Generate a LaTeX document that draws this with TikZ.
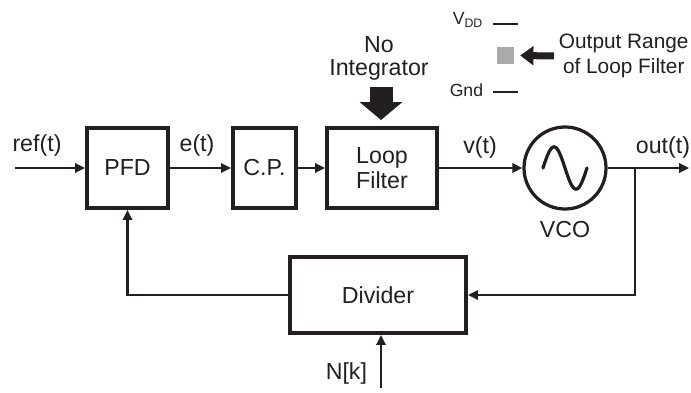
\documentclass[tikz,border=0pt]{standalone}
\usepackage{fontspec}
\setmainfont{Liberation Sans}
\usetikzlibrary{arrows.meta,positioning,calc}
\definecolor{PllInk}{RGB}{35,31,32}
\definecolor{PllGray}{RGB}{170,170,170}
\tikzset{
  pll/box/.style={
    draw=PllInk,
    line width=2.8pt,
    fill=white,
    align=center,
    text=PllInk,
    minimum height=2.0cm,
    inner sep=2pt,
    font=\fontsize{16.5}{17.5}\selectfont
  },
  pll/vco/.style={
    circle,
    draw=PllInk,
    line width=2.3pt,
    minimum size=2.05cm
  },
  pll/line/.style={line width=2pt, draw=PllInk},
  pll/arrow/.style={-{Triangle[length=2.5mm,width=2.3mm]}, line width=2pt, draw=PllInk},
  pll/fat/.style={-{Triangle[length=4.5mm,width=10.5mm]}, line width=5.75mm, draw=PllInk},
  pll/legarrow/.style={-{Triangle[length=3.3mm,width=4.6mm]}, line width=1.75mm, draw=PllInk},
  pll/label/.style={font=\fontsize{16.5}{16.5}\selectfont, text=PllInk, align=center},
  pll/note/.style={font=\fontsize{14.8}{17.5}\selectfont, text=PllInk, align=center},
  pll/small/.style={font=\fontsize{12.5}{14}\selectfont, text=PllInk}
}
\begin{document}
\begin{tikzpicture}[x=1cm,y=1cm]
  \useasboundingbox (0,0) rectangle (17.275,9.8);

  % forward path
  \node[pll/box,minimum width=2.025cm] (pfd) at (3.1875,5.6) {PFD};
  \node[pll/box,minimum width=1.575cm] (cp) at (6.6125,5.6) {C.P.};
  \node[pll/box,minimum width=2.75cm] (lf) at (9.55,5.6) {Loop\\Filter};
  \node[pll/vco] (vco) at (14.125,5.6) {};
  \node[pll/box,minimum width=4.4cm,minimum height=1.9cm] (div) at (9.45,2.425) {Divider};

  \coordinate (refin) at (0.375,5.6);
  \coordinate (outend) at (17.23,5.6);
  \coordinate (branch) at (15.875,5.6);
  \coordinate (nin) at (9.525,0.1);

  \draw[pll/arrow] (refin) -- (pfd.west);
  \draw[pll/arrow] (pfd.east) -- (cp.west);
  \draw[pll/arrow] (cp.east) -- (lf.west);
  \draw[pll/arrow] (lf.east) -- (vco.west);
  \draw[pll/arrow] (vco.east) -- (outend);
  \draw[pll/arrow] (branch) |- (div.east);
  \draw[pll/arrow] (div.west) -| (pfd.south);
  \draw[pll/arrow] (nin) -- (nin |- div.south);

  % sine inside the VCO
  \draw[line width=2.3pt,draw=PllInk,line cap=round]
    ([xshift=-0.55cm]vco.center) sin ++(0.275,0.53) cos ++(0.275,-0.53)
    sin ++(0.275,-0.53) cos ++(0.275,0.53);

  % signal labels
  \node[pll/label] (lref) at (0.925,6.175) {ref(t)};
  \node[pll/label] (le) at (4.925,6.175) {e(t)};
  \node[pll/label] (lv) at (12.0,6.125) {v(t)};
  \node[pll/label] (lout) at (16.575,6.125) {out(t)};
  \node[pll/label] (lvco) at (14.125,4.05) {VCO};
  \node[pll/label,anchor=east] (ln) at (9.3,0.475) {N[k]};

  % no integrator
  \node[pll/label,inner sep=0pt] (noint) at (9.475,8.33) {No\\Integrator};
  \draw[pll/fat] (9.525,7.625) -- (9.525,6.8);

  % output range legend
  \coordinate (vdd) at (12.325,9.2);
  \coordinate (gnd) at (12.325,7.5);
  \draw[line width=2pt,draw=PllInk] (vdd) -- ++(0.625,0);
  \draw[line width=2pt,draw=PllInk] (gnd) -- ++(0.625,0);
  \node[pll/small,anchor=east] (lvdd) at (12.2,9.3) {V\textsubscript{DD}};
  \node[pll/small,anchor=east] (lgnd) at (12.2,7.55) {Gnd};
  \node[fill=PllGray,minimum size=0.42cm,inner sep=0pt] (range) at (12.6375,8.4125) {};
  \node[pll/note,anchor=west] (lrange) at (13.85,8.4) {Output Range\\of Loop Filter};
  \draw[pll/legarrow] (lrange.west) -- ([xshift=0.15cm]range.east);
\end{tikzpicture}
\end{document}
